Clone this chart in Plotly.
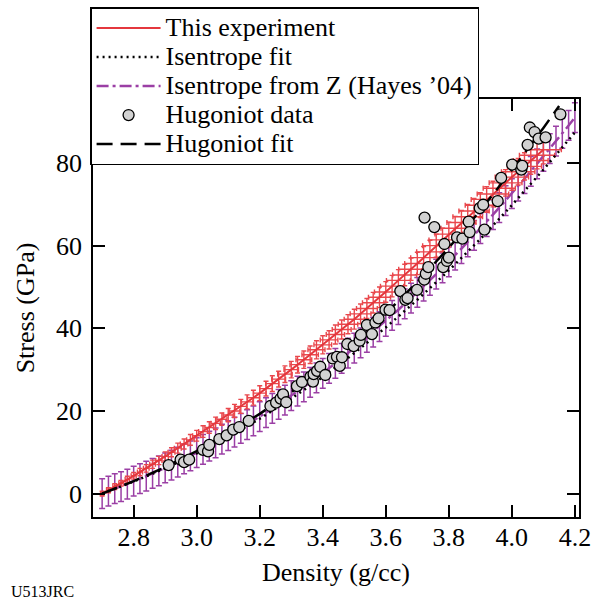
import plotly.graph_objects as go

# ---------------- data ----------------
# "This experiment" (red) - density grid and stress
exp_density = [2.70, 2.72, 2.74, 2.76, 2.78, 2.80, 2.82, 2.84, 2.86, 2.88,
               2.90, 2.92, 2.94, 2.96, 2.98, 3.00, 3.02, 3.04, 3.06, 3.08,
               3.10, 3.12, 3.14, 3.16, 3.18, 3.20, 3.22, 3.24, 3.26, 3.28,
               3.30, 3.32, 3.34, 3.36, 3.38, 3.40, 3.42, 3.44, 3.46, 3.48,
               3.50, 3.52, 3.54, 3.56, 3.58, 3.60, 3.62, 3.64, 3.66, 3.68,
               3.70, 3.72, 3.74, 3.76, 3.78, 3.80, 3.82, 3.84, 3.86, 3.88,
               3.90, 3.92, 3.94, 3.96, 3.98, 4.00, 4.02, 4.04, 4.06, 4.08, 4.10]
exp_stress = [0.0, 0.8, 1.7, 2.5, 3.4, 4.3, 5.2, 6.1, 7.1, 8.0,
              9.0, 10.0, 11.0, 12.0, 13.0, 14.0, 15.0, 16.0, 17.0, 18.0,
              19.0, 20.0, 21.1, 22.2, 23.2, 24.3, 25.4, 26.6, 27.7, 28.9,
              30.0, 31.2, 32.4, 33.6, 34.8, 36.0, 37.2, 38.5, 39.7, 41.0,
              42.2, 43.5, 44.8, 46.2, 47.5, 48.8, 50.2, 51.6, 52.9, 54.3,
              55.7, 57.1, 58.5, 60.0, 61.4, 62.8, 64.2, 65.6, 67.0, 68.4,
              69.8, 71.2, 72.5, 73.9, 75.2, 76.6, 77.9, 79.2, 80.6, 81.9, 83.2]
exp_density_err = [0.005, 0.006, 0.006, 0.007, 0.007,
                   0.008, 0.008, 0.009, 0.009, 0.010, 0.010, 0.011, 0.011, 0.012, 0.012,
                   0.013, 0.014, 0.014, 0.015, 0.016, 0.016, 0.017, 0.018, 0.018, 0.019,
                   0.020, 0.020, 0.021, 0.022, 0.023, 0.023, 0.024, 0.025, 0.026, 0.027,
                   0.028, 0.028, 0.029, 0.030, 0.031, 0.032, 0.033, 0.033, 0.034, 0.035,
                   0.036, 0.037, 0.038, 0.038, 0.039, 0.040, 0.041, 0.042, 0.043, 0.043,
                   0.044, 0.045, 0.046, 0.047, 0.048, 0.048, 0.049, 0.050, 0.051, 0.052,
                   0.053, 0.053, 0.054, 0.055, 0.056, 0.057]
exp_stress_err = [0.6, 0.6, 0.7, 0.7, 0.8,
                  0.8, 0.9, 0.9, 1.0, 1.0, 1.1, 1.1, 1.2, 1.2, 1.3,
                  1.3, 1.4, 1.4, 1.5, 1.5, 1.6, 1.6, 1.7, 1.7, 1.8,
                  1.8, 1.8, 1.9, 1.9, 2.0, 2.0, 2.0, 2.1, 2.1, 2.2,
                  2.2, 2.2, 2.3, 2.3, 2.3, 2.4, 2.4, 2.4, 2.5, 2.5,
                  2.5, 2.6, 2.6, 2.6, 2.7, 2.7, 2.7, 2.8, 2.8, 2.8,
                  2.9, 2.9, 2.9, 3.0, 3.0, 3.0, 3.1, 3.1, 3.1, 3.2,
                  3.2, 3.2, 3.3, 3.3, 3.3, 3.4]

# Isentrope fit (black dotted)
isen_density = [2.70, 2.80, 2.90, 3.00, 3.10, 3.20, 3.30, 3.40, 3.50, 3.60,
                3.70, 3.80, 3.90, 4.00, 4.10, 4.20]
isen_stress = [0.0, 2.9, 6.1, 9.7, 13.7, 18.1, 23.0, 28.2, 34.0, 40.2,
               46.9, 54.0, 61.6, 69.8, 78.4, 87.4]

# Isentrope from Z (Hayes '04) (purple, with error bars)
hayes_density = [2.70, 2.72, 2.74, 2.76, 2.78, 2.80, 2.82, 2.84, 2.86, 2.88,
                 2.90, 2.92, 2.94, 2.96, 2.98, 3.00, 3.02, 3.04, 3.06, 3.08,
                 3.10, 3.12, 3.14, 3.16, 3.18, 3.20, 3.22, 3.24, 3.26, 3.28,
                 3.30, 3.32, 3.34, 3.36, 3.38, 3.40, 3.42, 3.44, 3.46, 3.48,
                 3.50, 3.52, 3.54, 3.56, 3.58, 3.60, 3.62, 3.64, 3.66, 3.68,
                 3.70, 3.72, 3.74, 3.76, 3.78, 3.80, 3.82, 3.84, 3.86, 3.88,
                 3.90, 3.92, 3.94, 3.96, 3.98, 4.00, 4.02, 4.04, 4.06, 4.08,
                 4.10, 4.12, 4.14, 4.16, 4.18, 4.20]
hayes_stress = [0.0, 0.6, 1.2, 1.7, 2.3, 3.0, 3.6, 4.2, 4.9, 5.5,
                6.2, 6.9, 7.6, 8.4, 9.1, 9.9, 10.7, 11.5, 12.3, 13.2,
                14.0, 14.9, 15.8, 16.7, 17.6, 18.6, 19.6, 20.6, 21.6, 22.6,
                23.7, 24.8, 25.8, 26.9, 28.0, 29.1, 30.3, 31.5, 32.7, 34.0,
                35.2, 36.5, 37.8, 39.1, 40.4, 41.7, 43.1, 44.5, 45.9, 47.3,
                48.7, 50.2, 51.6, 53.1, 54.6, 56.1, 57.7, 59.3, 60.9, 62.5,
                64.1, 65.8, 67.5, 69.2, 70.9, 72.6, 74.4, 76.2, 78.0, 79.8,
                81.6, 83.5, 85.3, 87.2, 89.1, 91.0]
hayes_stress_err = 3.6

# Hugoniot data (gray circles)
hug_density = [2.911, 2.949, 2.960, 2.976, 3.020, 3.036, 3.040, 3.072, 3.095, 3.116,
               3.135, 3.165, 3.234, 3.252, 3.266, 3.274, 3.284, 3.318, 3.334, 3.361,
               3.369, 3.371, 3.382, 3.392, 3.408, 3.432, 3.445, 3.454, 3.461, 3.478,
               3.498, 3.517, 3.521, 3.540, 3.556, 3.567, 3.577, 3.599, 3.612, 3.646,
               3.662, 3.669, 3.699, 3.722, 3.727, 3.735, 3.723, 3.754, 3.782, 3.794,
               3.800, 3.786, 3.826, 3.843, 3.863, 3.866, 3.898, 3.909, 3.913, 3.955,
               3.966, 4.001, 4.030, 4.033, 4.050, 4.057, 4.072, 4.085, 4.107, 4.154]
hug_stress = [6.9, 8.2, 7.6, 8.2, 10.6, 10.2, 11.8, 13.2, 14.1, 15.5,
              16.1, 17.6, 21.2, 22.0, 23.0, 24.0, 22.1, 26.0, 27.0, 28.3,
              27.1, 28.9, 29.7, 30.7, 28.7, 32.7, 33.1, 30.9, 33.0, 36.2,
              35.7, 37.0, 38.4, 40.8, 38.6, 41.4, 42.4, 44.5, 44.4, 49.0,
              46.9, 47.3, 49.3, 51.8, 53.2, 54.8, 66.8, 64.5, 54.8, 56.3,
              57.1, 60.4, 62.0, 61.7, 65.8, 63.3, 69.1, 69.9, 63.9, 70.8,
              76.4, 79.6, 78.4, 79.3, 84.4, 88.6, 87.5, 85.9, 86.2, 91.8]

# Hugoniot fit (black dashed)
hfit_density = [2.70, 2.80, 2.90, 3.00, 3.10, 3.20, 3.30, 3.40, 3.50, 3.60,
                3.70, 3.80, 3.90, 4.00, 4.10, 4.15]
hfit_stress = [0.0, 3.0, 6.4, 10.3, 14.6, 19.3, 24.5, 30.3, 36.6, 43.6,
               51.2, 59.5, 68.5, 78.3, 88.5, 93.8]

x_ticks = [2.8, 3.0, 3.2, 3.4, 3.6, 3.8, 4.0, 4.2]
x_tick_labels = ["2.8", "3.0", "3.2", "3.4", "3.6", "3.8", "4.0", "4.2"]
y_ticks = [0, 20, 40, 60, 80]

legend_names = ["This experiment", "Isentrope fit", "Isentrope from Z (Hayes ’04)",
                "Hugoniot data", "Hugoniot fit"]

# ---------------- styles ----------------
RED = "#e4373d"
RED_ERR = "#e9474c"
PURPLE = "#9b3fa5"
FONT = "Liberation Serif"


def big(label):
    return '<span style="font-size:26px">' + label + '</span>'


fig = go.Figure()

fig.add_trace(go.Scatter(
    x=hayes_density, y=hayes_stress, mode="lines",
    name=big(legend_names[2]), legendrank=3,
    line=dict(color=PURPLE, width=2.5, dash="12px,4px,3px,4px"),
    error_y=dict(type="constant", value=hayes_stress_err, color=PURPLE,
                 thickness=1.5, width=3),
))

fig.add_trace(go.Scatter(
    x=exp_density, y=exp_stress, mode="lines",
    name=big(legend_names[0]), legendrank=1,
    line=dict(color=RED, width=2),
    error_x=dict(type="data", array=exp_density_err, color=RED_ERR,
                 thickness=1.4, width=2.5),
    error_y=dict(type="data", array=exp_stress_err, color=RED_ERR,
                 thickness=1.4, width=2.5),
))

fig.add_trace(go.Scatter(
    x=isen_density, y=isen_stress, mode="lines",
    name=big(legend_names[1]), legendrank=2,
    line=dict(color="black", width=2.5, dash="2px,4px"),
))

fig.add_trace(go.Scatter(
    x=hfit_density, y=hfit_stress, mode="lines",
    name=big(legend_names[4]), legendrank=5,
    line=dict(color="black", width=2.5, dash="16px,8px"),
))

fig.add_trace(go.Scatter(
    x=hug_density, y=hug_stress, mode="markers",
    name=big(legend_names[3]), legendrank=4,
    marker=dict(symbol="circle", size=11, color="#d2d2d2",
                line=dict(color="black", width=1.3)),
))

axis_common = dict(
    showline=True, linecolor="black", linewidth=1.5, mirror="ticks",
    ticks="inside", ticklen=12, tickwidth=1.5, tickcolor="black",
    showgrid=False, zeroline=False,
    tickfont=dict(family=FONT, size=26, color="black"),
    title_font=dict(family=FONT, size=26, color="black"),
)

fig.update_xaxes(
    range=[2.671, 4.213], tickvals=x_ticks, ticktext=x_tick_labels,
    title_text="Density (g/cc)", title_standoff=12, ticklabelstandoff=-4,
    **axis_common)
fig.update_yaxes(
    range=[-5.67, 95.5], tickvals=y_ticks,
    title_text="Stress (GPa)", title_standoff=14, ticklabelstandoff=4,
    **axis_common)

fig.update_layout(
    width=606, height=602,
    margin=dict(l=93, r=27, t=99, b=85, autoexpand=False),
    paper_bgcolor="white", plot_bgcolor="white",
    font=dict(family=FONT, color="black"),
    showlegend=True,
    legend=dict(
        x=-0.006, y=1.220, xanchor="left", yanchor="top",
        bgcolor="white", bordercolor="black", borderwidth=1.5,
        font=dict(family=FONT, size=20, color="black"),
        itemwidth=64, tracegroupgap=0,
    ),
    annotations=[dict(
        text="U513JRC", xref="paper", yref="paper",
        x=-0.172, y=-0.152, xanchor="left", yanchor="top",
        showarrow=False, font=dict(family=FONT, size=16, color="black"),
    )],
)

fig.write_html("out.html")
